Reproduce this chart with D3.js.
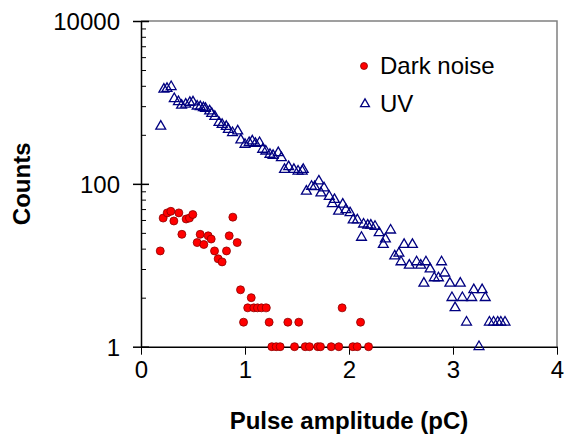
<!DOCTYPE html>
<html>
<head>
<meta charset="utf-8">
<script src="https://cdn.jsdelivr.net/npm/d3@7"></script>
<style>
  body { margin: 0; background: #fff; }
  svg { display: block; font-family: "Liberation Sans", Arial, sans-serif; }
  .tick text { font-size: 24px; fill: #000; }
</style>
</head>
<body>
<script>
//tick labels
var xTicks = [0, 1, 2, 3, 4];
var yTicks = [1, 100, 10000];

//dark noise series (pulse amplitude pC, counts)
var darkX = [0.185, 0.213, 0.252, 0.287, 0.316, 0.364, 0.393, 0.434, 0.466, 0.498,
             0.54, 0.569, 0.604, 0.646, 0.675, 0.707, 0.742, 0.78, 0.822, 0.848,
             0.883, 0.925, 0.957, 0.986, 1.026, 1.06, 1.085, 1.12, 1.158, 1.205,
             1.232, 1.258, 1.30, 1.338, 1.412, 1.476, 1.517, 1.579, 1.62, 1.70,
             1.726, 1.829, 1.902, 1.934, 2.037, 2.079, 2.111, 2.188];
var darkY = [15, 38, 44, 46, 35, 44, 24, 37, 38, 42,
             19, 24, 18, 23, 21, 15, 12, 11, 15, 23,
             39, 19, 5, 2, 3, 4, 3, 3, 3, 3,
             2, 1, 1, 1, 2, 1, 2, 1, 1, 1,
             1, 1, 1, 3, 1, 1, 2, 1];

//UV series
var uvX = [0.19, 0.22, 0.25, 0.29, 0.32, 0.36, 0.39, 0.43, 0.47, 0.50,
           0.54, 0.57, 0.60, 0.62, 0.66, 0.68, 0.71, 0.75, 0.78, 0.82,
           0.84, 0.88, 0.93, 0.96, 1.00, 1.04, 1.07, 1.10, 1.14, 1.17,
           1.20, 1.24, 1.27, 1.32, 1.35, 1.38, 1.42, 1.47, 1.51, 1.55,
           1.56, 1.59, 1.64, 1.67, 1.71, 1.73, 1.76, 1.81, 1.84, 1.86,
           1.90, 1.94, 1.97, 2.01, 2.04, 2.08, 2.12, 2.14, 2.18, 2.21,
           2.25, 2.29, 2.33, 2.35, 2.40, 2.44, 2.48, 2.50, 2.53, 2.58,
           2.61, 2.65, 2.69, 2.72, 2.74, 2.78, 2.82, 2.86, 2.89, 2.92,
           2.97, 2.99, 3.02, 3.07, 3.09, 3.13, 3.18, 3.20, 3.25, 3.28,
           3.31, 3.35, 3.39, 3.43, 3.46, 3.50];
var uvY = [510, 1450, 1480, 1560, 1110, 1020, 920, 950, 995, 1010,
           900, 885, 860, 840, 785, 730, 670, 565, 535, 505,
           465, 425, 445, 345, 305, 320, 335, 313, 320, 265,
           252, 230, 223, 241, 209, 150, 162, 150, 143, 143,
           150, 81, 93, 92, 108, 77, 89, 70, 57, 64,
           46, 56, 48, 44, 36, 36, 22, 32, 31, 31,
           30, 25, 18, 21, 27, 13, 14, 11, 18, 10,
           18, 11, 10, 6, 11, 9, 7, 7, 11, 8,
           6, 4, 3, 6, 4, 2, 4, 5, 1, 5,
           4, 2, 2, 2, 2, 2];

var seriesNames = ["Dark noise", "UV"];

window.onload = setChart();

function setChart(){
    var width = 564, height = 436;
    var margin = { top: 21, left: 141 },
        plotW = 416,
        plotH = 325.7;

    var svg = d3.select("body")
        .append("svg")
        .attr("width", width)
        .attr("height", height);

    var g = svg.append("g")
        .attr("transform", "translate(" + margin.left + "," + margin.top + ")");

    var x = d3.scaleLinear().domain([0, 4]).range([0, plotW]);
    var y = d3.scaleLog().domain([1, 10000]).range([plotH, 0]);

    //grey frame on top and right
    g.append("path")
        .attr("d", "M0,0H" + plotW + "V" + plotH)
        .attr("fill", "none")
        .attr("stroke", "#808080")
        .attr("stroke-width", 1.5);

    //minor log ticks (excel style: base 100 with squares)
    var minor = [];
    [1, 100].forEach(function(b){
        for (var i = 2; i <= 9; i++) minor.push(b * i * i);
    });
    var yMinor = g.append("g")
        .call(d3.axisRight(y).tickValues(minor).tickSize(5).tickFormat(""));
    yMinor.select(".domain").remove();
    yMinor.selectAll("line").attr("stroke", "#000");

    //x axis
    var xAxis = g.append("g")
        .attr("transform", "translate(0," + plotH + ")")
        .call(d3.axisBottom(x).tickValues(xTicks).tickSize(8).tickSizeOuter(0).tickPadding(6)
            .tickFormat(d3.format("d")));
    xAxis.select(".domain").attr("stroke-width", 1.5);

    //y axis with crossing major ticks
    var yAxis = g.append("g")
        .call(d3.axisLeft(y).tickValues(yTicks).tickSize(8).tickSizeOuter(0).tickPadding(13)
            .tickFormat(d3.format("d")));
    yAxis.selectAll(".tick line").attr("x1", 8).attr("stroke-width", 1.5);
    yAxis.select(".domain").attr("stroke-width", 1.5);
    yAxis.selectAll(".tick text").attr("dy", "0.35em");

    //UV triangles
    var tri = d3.symbol().type(d3.symbolTriangle).size(42);
    g.selectAll(".uv")
        .data(uvX)
        .enter()
        .append("path")
        .attr("class", "uv")
        .attr("d", tri)
        .attr("transform", function(d, i){
            return "translate(" + x(d) + "," + y(uvY[i]) + ")";
        })
        .attr("fill", "none")
        .attr("stroke", "#000080")
        .attr("stroke-width", 1.3);

    //dark noise circles
    g.selectAll(".dark")
        .data(darkX)
        .enter()
        .append("circle")
        .attr("class", "dark")
        .attr("cx", function(d){ return x(d); })
        .attr("cy", function(d, i){ return y(darkY[i]); })
        .attr("r", 4)
        .attr("fill", "#ff0000")
        .attr("stroke", "#8b0000")
        .attr("stroke-width", 0.8);

    //legend
    var legend = svg.append("g");
    legend.append("circle")
        .attr("cx", 364).attr("cy", 66).attr("r", 3.5)
        .attr("fill", "#ff0000").attr("stroke", "#8b0000").attr("stroke-width", 0.8);
    legend.append("path")
        .attr("d", d3.symbol().type(d3.symbolTriangle).size(34))
        .attr("transform", "translate(365,104)")
        .attr("fill", "none").attr("stroke", "#000080").attr("stroke-width", 1.3);
    legend.append("text")
        .attr("x", 380).attr("y", 74)
        .style("font-size", "24px")
        .text(seriesNames[0]);
    legend.append("text")
        .attr("x", 380).attr("y", 112)
        .style("font-size", "24px")
        .text(seriesNames[1]);

    //axis titles
    svg.append("text")
        .attr("x", margin.left + plotW / 2)
        .attr("y", 429)
        .attr("text-anchor", "middle")
        .style("font-size", "24px")
        .style("font-weight", "bold")
        .text("Pulse amplitude (pC)");

    svg.append("text")
        .attr("transform", "translate(30," + (margin.top + plotH / 2) + ") rotate(-90)")
        .attr("text-anchor", "middle")
        .style("font-size", "24px")
        .style("font-weight", "bold")
        .text("Counts");
};
</script>
</body>
</html>
